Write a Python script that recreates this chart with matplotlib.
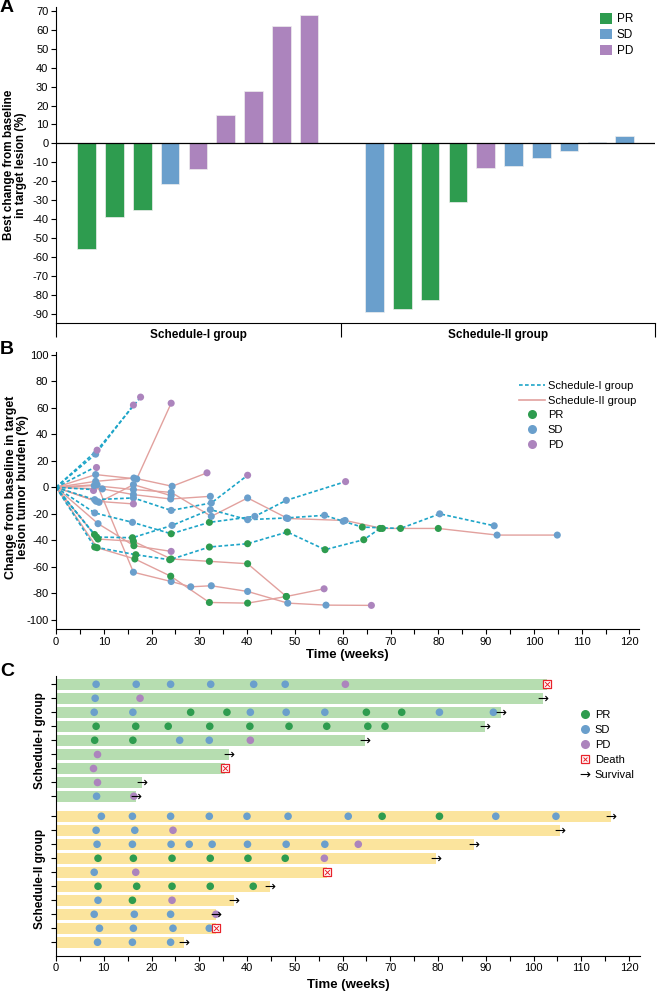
import matplotlib
matplotlib.use('Agg')
import matplotlib.pyplot as plt
from matplotlib.lines import Line2D
from matplotlib.patches import Patch
from matplotlib.transforms import blended_transform_factory

plt.rcParams['font.family'] = ['Liberation Sans', 'DejaVu Sans']
plt.rcParams['axes.unicode_minus'] = False
plt.rcParams['font.size'] = 8
plt.rcParams['axes.linewidth'] = 0.8

GREEN = '#2e9c4f'
BLUE = '#6a9fcc'
PURPLE = '#ac84bd'
COL = {'PR': GREEN, 'SD': BLUE, 'PD': PURPLE}
DASH_COL = '#1ea5c8'
SOLID_COL = '#e2a19e'
BAR1_COL = '#b6ddb0'
BAR2_COL = '#fbe49d'
DEATH_COL = '#e8232b'
DASH = (0, (2.2, 1.4))

# ---------------- panel A: best change ----------------
best_s1 = [-55.8, -38.6, -35.3, -21.4, -13.3, 15.1, 27.7, 61.9, 67.7]
resp_s1 = ['PR', 'PR', 'PR', 'SD', 'PD', 'PD', 'PD', 'PD', 'PD']
best_s2 = [-88.8, -87.5, -82.5, -30.9, -13.2, -11.8, -7.9, -4.0, 0.9, 4.0]
resp_s2 = ['SD', 'PR', 'PR', 'PR', 'PD', 'SD', 'SD', 'SD', 'SD', 'SD']
group_names = ['Schedule-I group', 'Schedule-II group']

# ---------------- panel B: change over time (baseline 0,0 added) ----------------
s1_weeks = [[8.3, 16.2], [8.6, 17.7], [8.3],
            [8.1, 16.2, 24.1, 32.5, 40.1],
            [8.5, 16.0, 24.3, 32.3, 40.1, 48.2, 56.2, 60.1, 64.1, 72.1, 80.3, 91.7],
            [8.1, 16.7, 23.8, 32.1, 40.1, 48.4, 56.3, 64.4, 67.8],
            [8.1, 16.0, 24.1, 32.1, 41.6, 48.2, 60.6],
            [7.8], [7.9]]
s1_change = [[25, 62], [28, 68], [15.4],
             [-9.3, -8, -17.4, -11.8, 9.1],
             [-37.5, -38, -28.7, -16.8, -24.4, -23.1, -21.1, -25.6, -30, -31, -20, -29],
             [-45, -50.8, -54.6, -45, -42.5, -33.7, -47, -39.5, -31],
             [-19.3, -26.4, -35, -26.4, -21.9, -9.8, 4.3],
             [-1.7], [-35]]
s1_resp = [['SD', 'PD'], ['PD', 'PD'], ['PD'],
           ['SD', 'SD', 'SD', 'SD', 'PD'],
           ['PR', 'PR', 'SD', 'SD', 'SD', 'SD', 'SD', 'SD', 'PR', 'PR', 'SD', 'SD'],
           ['PR'] * 9,
           ['SD', 'SD', 'PR', 'PR', 'SD', 'SD', 'PD'],
           ['PD'], ['PR']]

s2_weeks = [[8.0, 16.2, 24.1, 32.5, 40.1, 48.5, 60.5, 68.3, 80.0, 92.3, 104.9],
            [8.3, 16.9, 24.1],
            [8.6, 16.2, 24.1, 28.2, 32.5, 40.1, 48.5, 56.5, 66.0],
            [8.6, 16.5, 24.0, 32.1, 40.1, 48.2, 56.1],
            [8.4, 16.2],
            [8.8, 16.2, 24.1, 32.1, 40.1, 48.2],
            [8.8, 16.3, 24.1],
            [8.3, 16.3, 24.3, 31.6],
            [9.7, 16.2, 24.0, 32.3],
            [9.0, 16.2, 24.1]]
s2_change = [[1.3, -1.7, -3.8, -21.9, -8, -23.5, -25, -31, -31, -36, -36],
             [9.6, 6.3, 63.4],
             [2, -64, -71, -75, -74.2, -78.5, -87.3, -88.8, -89],
             [-45.5, -54, -67, -86.8, -87.3, -82.3, -76.5],
             [-10.5, -12.5],
             [-39, -40.7, -54, -55.8, -57.6, -82.3],
             [-27.4, -44, -48.3],
             [4.5, 7, 0.8, 10.9],
             [-1.2, -5.5, -8.8, -6.8],
             [-11.3, 2, -6.3]]
s2_resp = [['SD'] * 7 + ['PR', 'PR', 'SD', 'SD'],
           ['SD', 'SD', 'PD'],
           ['SD'] * 8 + ['PD'],
           ['PR'] * 6 + ['PD'],
           ['SD', 'PD'],
           ['PR'] * 6,
           ['SD', 'PR', 'PD'],
           ['SD', 'SD', 'SD', 'PD'],
           ['SD'] * 4,
           ['SD'] * 3]

# ---------------- panel C: swimmer plot ----------------
c1_visits = [[8.4, 16.8, 24.0, 32.4, 41.4, 48.0, 60.6],
             [8.2, 17.6],
             [8.0, 16.1, 28.2, 35.8, 40.7, 48.2, 56.3, 65.0, 72.4, 80.3, 91.6],
             [8.4, 16.7, 23.5, 32.2, 40.6, 48.8, 56.7, 65.3, 68.9],
             [8.1, 16.1, 25.9, 32.1, 40.7],
             [8.6], [7.7], [8.6], [8.5, 16.3]]
c1_resp = [['SD'] * 6 + ['PD'],
           ['SD', 'PD'],
           ['SD', 'SD', 'PR', 'PR', 'SD', 'SD', 'SD', 'PR', 'PR', 'SD', 'SD'],
           ['PR'] * 9,
           ['PR', 'PR', 'SD', 'SD', 'PD'],
           ['PD'], ['PD'], ['PD'], ['SD', 'PD']]
c1_end = [102.8, 101.9, 93.2, 89.8, 64.7, 36.2, 35.3, 18.1, 16.8]
c1_death = [True, False, False, False, False, False, True, False, False]

c2_visits = [[9.5, 16.0, 24.0, 32.1, 40.0, 48.6, 61.2, 68.3, 80.3, 92.1, 104.7],
             [8.4, 16.5, 24.5],
             [8.6, 16.0, 24.1, 27.9, 32.7, 40.1, 48.2, 56.3, 63.3],
             [8.8, 16.2, 24.3, 32.3, 40.2, 48.0, 56.2],
             [8.0, 16.7],
             [8.8, 16.9, 24.3, 32.3, 41.3],
             [8.8, 16.0, 24.3],
             [8.0, 16.4, 24.0, 33.5],
             [9.1, 16.2, 24.5, 32.1],
             [8.7, 16.0, 24.0]]
c2_resp = [['SD'] * 7 + ['PR', 'PR', 'SD', 'SD'],
           ['SD', 'SD', 'PD'],
           ['SD'] * 8 + ['PD'],
           ['PR'] * 6 + ['PD'],
           ['SD', 'PD'],
           ['PR'] * 5,
           ['SD', 'PR', 'PD'],
           ['SD', 'SD', 'SD', 'PD'],
           ['SD'] * 4,
           ['SD'] * 3]
c2_end = [116.3, 105.6, 87.5, 79.5, 56.8, 44.9, 37.2, 33.6, 33.6, 26.9]
c2_death = [False, False, False, False, True, False, False, False, True, False]


W, H = 657, 992


def fx(px):
    return px / W


def fy(py):
    return 1 - py / H


fig = plt.figure(figsize=(W / 100, H / 100), dpi=100)

# ================= A =================
axA = fig.add_axes([fx(56), fy(323), fx(655) - fx(56), fy(7) - fy(323)])
pos1 = list(range(len(best_s1)))
pos2 = [10.35 + i for i in range(len(best_s2))]
axA.bar(pos1, best_s1, width=0.67, color=[COL[r] for r in resp_s1],
        edgecolor='#eeeeee', linewidth=0.5, zorder=2)
axA.bar(pos2, best_s2, width=0.67, color=[COL[r] for r in resp_s2],
        edgecolor='#eeeeee', linewidth=0.5, zorder=2)
axA.axhline(0, color='black', lw=0.9, zorder=3)
axA.set_xlim(-1.1, 20.44)
axA.set_ylim(-94.75, 72)
axA.set_yticks(range(-90, 71, 10))
axA.spines['top'].set_visible(False)
axA.spines['right'].set_visible(False)
axA.set_xticks([-1.1, 9.15, 20.44])
axA.set_xticklabels([])
axA.set_xticks([4.03, 14.8], minor=True)
axA.set_xticklabels(group_names, minor=True, fontweight='bold', fontsize=8.5)
axA.tick_params(axis='x', which='major', length=10, width=0.8)
axA.tick_params(axis='x', which='minor', length=0, pad=4)
axA.tick_params(axis='y', length=3.5, width=0.8, labelsize=8, pad=2)
fig.text(fx(15), fy(165), 'Best change from baseline\nin target lesion (%)',
         rotation=90, ha='center', va='center', fontsize=8.5, fontweight='bold',
         linespacing=1.1)
hA = [Patch(facecolor=COL[k], edgecolor='none') for k in ['PR', 'SD', 'PD']]
axA.legend(hA, ['PR', 'SD', 'PD'], loc='upper left', bbox_to_anchor=(fx(600), fy(13)),
           bbox_transform=fig.transFigure, frameon=False, handlelength=1.0,
           handleheight=1.0, handletextpad=0.4, labelspacing=0.3, borderpad=0,
           borderaxespad=0, fontsize=8.5)

# ================= B =================
axB = fig.add_axes([fx(56), fy(629), fx(639) - fx(56), fy(352) - fy(629)])
for wk, ch in zip(s1_weeks, s1_change):
    axB.plot([0] + wk, [0] + ch, ls=DASH, color=DASH_COL, lw=1.2, zorder=2)
for wk, ch in zip(s2_weeks, s2_change):
    axB.plot([0] + wk, [0] + ch, color=SOLID_COL, lw=1.0, zorder=1)
for wk, ch, rs in zip(s1_weeks + s2_weeks, s1_change + s2_change, s1_resp + s2_resp):
    axB.scatter(wk, ch, c=[COL[r] for r in rs], s=26, linewidths=0, zorder=3)
axB.set_xlim(0, 122)
axB.set_ylim(-106.8, 102)
axB.set_yticks(range(-100, 101, 20))
axB.set_xticks(range(0, 121, 10))
axB.set_xticks(range(5, 121, 10), minor=True)
axB.spines['top'].set_visible(False)
axB.spines['right'].set_visible(False)
axB.tick_params(axis='both', which='both', length=3.5, width=0.8, labelsize=8, pad=2)
axB.set_xlabel('Time (weeks)', fontsize=9.5, fontweight='bold', labelpad=2)
fig.text(fx(17), fy(487), 'Change from baseline in target\nlesion tumor burden (%)',
         rotation=90, ha='center', va='center', fontsize=9, fontweight='bold',
         linespacing=1.1)
hB = [Line2D([], [], ls=DASH, color=DASH_COL, lw=1.2),
      Line2D([], [], color=SOLID_COL, lw=1.2)]
hB += [Line2D([], [], ls='none', marker='o', ms=6.5, mfc=COL[k], mec='none')
       for k in ['PR', 'SD', 'PD']]
axB.legend(hB, group_names + ['PR', 'SD', 'PD'], loc='upper left',
           bbox_to_anchor=(fx(519), fy(381)), bbox_transform=fig.transFigure,
           frameon=False, handlelength=2.3, handletextpad=0.3, labelspacing=0.42,
           borderpad=0, borderaxespad=0, fontsize=8)

# ================= C =================
axC = fig.add_axes([fx(56), fy(955.7), fx(640) - fx(56), fy(676) - fy(955.7)])
rows1 = list(range(len(c1_end)))
rows2 = [9.43 + i for i in range(len(c2_end))]
groups = [(rows1, c1_visits, c1_resp, c1_end, c1_death, BAR1_COL),
          (rows2, c2_visits, c2_resp, c2_end, c2_death, BAR2_COL)]
for rows, visits, resps, ends, deaths, bcol in groups:
    axC.barh(rows, ends, height=0.76, color=bcol, zorder=1)
    for y, wk, rs, e, d in zip(rows, visits, resps, ends, deaths):
        axC.scatter(wk, [y] * len(wk), c=[COL[r] for r in rs], s=30,
                    linewidths=0, zorder=3)
        if d:
            axC.scatter([e], [y], marker='s', s=32, facecolor='white',
                        edgecolor=DEATH_COL, linewidths=0.9, zorder=4)
            axC.scatter([e], [y], marker='x', s=12, color=DEATH_COL,
                        linewidths=0.7, zorder=5)
        else:
            axC.plot([e], [y], ls='none', marker=r'$\rightarrow$', ms=7, mew=0,
                     color='black', zorder=5)
axC.set_xlim(0, 122.3)
axC.set_ylim(19.39, -0.59)
axC.set_yticks(rows1 + rows2)
axC.set_yticklabels([])
axC.set_xticks(range(0, 121, 10))
axC.set_xticks(range(5, 121, 10), minor=True)
axC.spines['top'].set_visible(False)
axC.spines['right'].set_visible(False)
axC.tick_params(axis='both', which='both', length=3.5, width=0.8, labelsize=8, pad=2)
axC.set_xlabel('Time (weeks)', fontsize=9.5, fontweight='bold', labelpad=4)
tr = blended_transform_factory(fig.transFigure, axC.transData)
axC.text(fx(40), sum(rows1) / len(rows1), group_names[0], transform=tr,
         rotation=90, ha='center', va='center', fontsize=8.5, fontweight='bold')
axC.text(fx(40), sum(rows2) / len(rows2), group_names[1], transform=tr,
         rotation=90, ha='center', va='center', fontsize=8.5, fontweight='bold')
hC = [Line2D([], [], ls='none', marker='o', ms=6.5, mfc=COL[k], mec='none')
      for k in ['PR', 'SD', 'PD']]
hC.append((Line2D([], [], ls='none', marker='s', ms=6, mfc='white', mec=DEATH_COL, mew=0.9),
           Line2D([], [], ls='none', marker='x', ms=3.5, color=DEATH_COL, mew=0.7)))
hC.append(Line2D([], [], ls='none', marker=r'$\rightarrow$', ms=7, mew=0, color='black'))
axC.legend(hC, ['PR', 'SD', 'PD', 'Death', 'Survival'], loc='upper left',
           bbox_to_anchor=(fx(578), fy(710)), bbox_transform=fig.transFigure,
           frameon=False, handlelength=1.2, handletextpad=0.3, labelspacing=0.44,
           borderpad=0, borderaxespad=0, fontsize=8)

for letter, py in [('A', 8), ('B', 349), ('C', 671)]:
    fig.text(fx(0), fy(py), letter, fontsize=14, fontweight='bold', ha='left', va='center')

fig.savefig('out.png', dpi=100)
